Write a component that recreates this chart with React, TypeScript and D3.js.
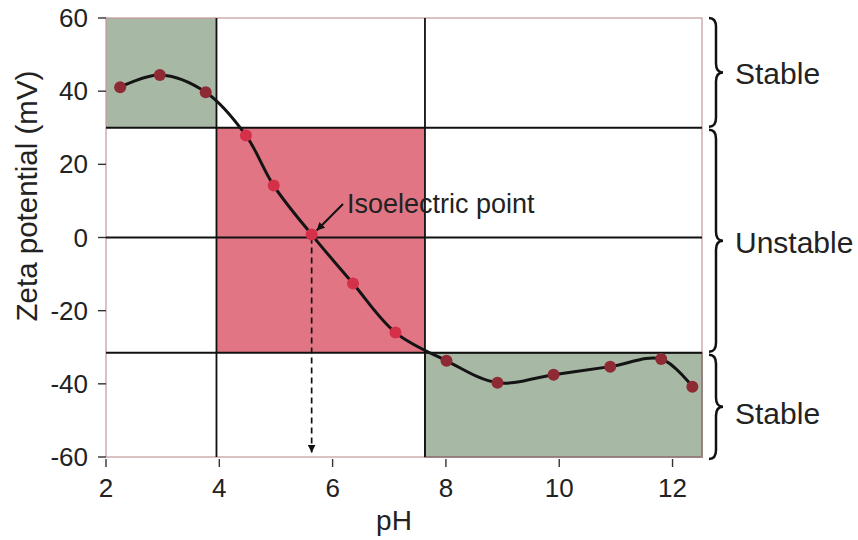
import React from 'react';
import * as d3 from 'd3';

const phValues = [2.25, 2.95, 3.76, 4.47, 4.96, 5.63, 6.36, 7.11, 8.01, 8.91, 9.9, 10.9, 11.8, 12.35];
const zetaValues = [41.1, 44.4, 39.7, 27.9, 14.2, 0.8, -12.6, -26, -33.7, -39.7, -37.5, -35.3, -33.2, -40.8];

const xTicks = [2, 4, 6, 8, 10, 12];
const yTicks = [60, 40, 20, 0, -20, -40, -60];

// stability bands (zeta ranges) and their labels
const bandLabels = ['Stable', 'Unstable', 'Stable'];
const bandRanges: [number, number][] = [[60, 30], [30, -31.5], [-31.5, -60]];
const phBreaks = [3.95, 7.63];
const isoelectricPH = 5.63;

const WIDTH = 858;
const HEIGHT = 540;
const FONT = '"Liberation Sans", Arial, sans-serif';

function bracePath(x: number, y0: number, y1: number, w: number) {
  const ym = (y0 + y1) / 2;
  const q = 9;
  const h = x + w / 2;
  return `M${x},${y0} Q${h},${y0} ${h},${y0 + q} L${h},${ym - q} Q${h},${ym} ${x + w},${ym} ` +
    `Q${h},${ym} ${h},${ym + q} L${h},${y1 - q} Q${h},${y1} ${x},${y1}`;
}

export default function App() {
  const x = d3.scaleLinear().domain([2, 12.52]).range([106, 702]);
  const y = d3.scaleLinear().domain([-60, 60]).range([457, 18]);

  const [x0, x1] = x.range();
  const [yB, yT] = y.range();

  const points = phValues.map((p, i) => ({ p, z: zetaValues[i] }));
  const line = d3.line<{ p: number; z: number }>()
    .x(d => x(d.p))
    .y(d => y(d.z))
    .curve(d3.curveCatmullRom.alpha(0.5));

  const inRed = (p: number, z: number) =>
    p > phBreaks[0] && p < phBreaks[1] && z < bandRanges[1][0] && z > bandRanges[1][1];

  const isoX = x(isoelectricPH);

  return (
    <svg width={WIDTH} height={HEIGHT} style={{ position: 'absolute', left: 0, top: 0, background: '#fff' }}
      fontFamily={FONT}>
      <defs>
        <marker id="head" viewBox="0 0 10 10" refX="10" refY="5" markerWidth="8" markerHeight="8"
          markerUnits="userSpaceOnUse" orient="auto">
          <path d="M0,0 L10,5 L0,10 Z" fill="#111" />
        </marker>
      </defs>

      {/* shaded regions */}
      <rect x={x0} y={y(60)} width={x(phBreaks[0]) - x0} height={y(30) - y(60)} fill="#a7b9a5" />
      <rect x={x(phBreaks[0])} y={y(30)} width={x(phBreaks[1]) - x(phBreaks[0])}
        height={y(-31.5) - y(30)} fill="#e17584" />
      <rect x={x(phBreaks[1])} y={y(-31.5)} width={x1 - x(phBreaks[1])}
        height={y(-60) - y(-31.5)} fill="#a7b9a5" stroke="#333" strokeWidth={1.5} />

      {/* plot frame */}
      <rect x={x0} y={yT} width={x1 - x0} height={yB - yT} fill="none" stroke="#c49a9a" strokeWidth={1.2} />

      {/* region grid lines */}
      {[30, 0, -31.5].map(v => (
        <line key={v} x1={x0} x2={x1} y1={y(v)} y2={y(v)} stroke="#111" strokeWidth={1.8} />
      ))}
      {phBreaks.map(v => (
        <line key={v} x1={x(v)} x2={x(v)} y1={yT} y2={yB} stroke="#111" strokeWidth={1.8} />
      ))}

      {/* axes ticks */}
      {yTicks.map(t => (
        <g key={t}>
          <line x1={x0 - 8} x2={x0} y1={y(t)} y2={y(t)} stroke="#333" strokeWidth={1.4} />
          <text x={88} y={y(t) + 9} textAnchor="end" fontSize={26} fill="#222">{t}</text>
        </g>
      ))}
      {xTicks.map(t => (
        <g key={t}>
          <line x1={x(t)} x2={x(t)} y1={yB + 2} y2={yB + 10} stroke="#333" strokeWidth={1.4} />
          <text x={x(t)} y={497} textAnchor="middle" fontSize={26} fill="#222">{t}</text>
        </g>
      ))}

      {/* axis titles */}
      <text x={394} y={530} textAnchor="middle" fontSize={28} fill="#222">pH</text>
      <text transform="translate(37,196) rotate(-90)" textAnchor="middle" fontSize={29.5} fill="#222">
        Zeta potential (mV)
      </text>

      {/* dashed drop to pH axis */}
      <line x1={isoX} x2={isoX} y1={y(0)} y2={y(-58.8)} stroke="#111" strokeWidth={1.7}
        strokeDasharray="6,4" markerEnd="url(#head)" />

      {/* fitted curve and data points */}
      <path d={line(points) ?? ''} fill="none" stroke="#141414" strokeWidth={3} />
      {points.map((d, i) => (
        <circle key={i} cx={x(d.p)} cy={y(d.z)} r={6}
          fill={inRed(d.p, d.z) ? '#d4304a' : '#8e2a33'} />
      ))}

      {/* isoelectric annotation */}
      <line x1={343} y1={204} x2={isoX + 5} y2={y(0) - 7} stroke="#111" strokeWidth={2}
        markerEnd="url(#head)" />
      <text x={347} y={213} fontSize={27} fill="#222">Isoelectric point</text>

      {/* stability braces */}
      {bandRanges.map(([a, b], i) => {
        const ya = y(a) + (i === 0 ? 0 : 2);
        const yb = y(b) - (i === bandRanges.length - 1 ? -2 : 1);
        const mid = (ya + yb) / 2;
        return (
          <g key={i}>
            <path d={bracePath(709, ya, yb, 14)} fill="none" stroke="#111" strokeWidth={2.5} />
            <text x={735} y={mid + (i === 2 ? 17 : 12)} fontSize={30} fill="#222">{bandLabels[i]}</text>
          </g>
        );
      })}
    </svg>
  );
}
